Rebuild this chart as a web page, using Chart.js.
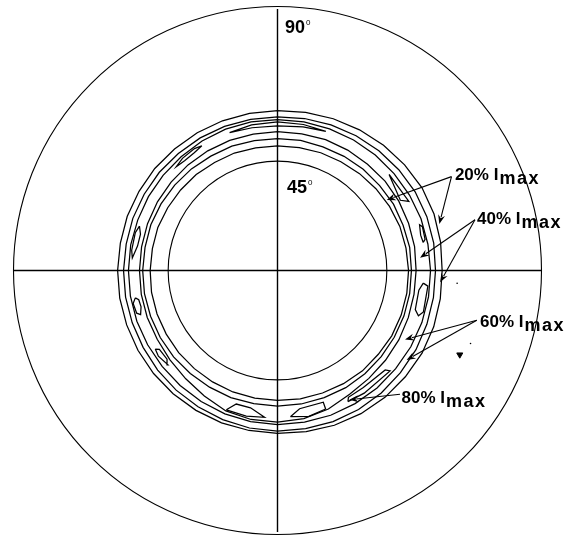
<!DOCTYPE html>
<html><head><meta charset="utf-8">
<script src="https://cdn.jsdelivr.net/npm/chart.js@4.4.1/dist/chart.umd.min.js"></script>
<style>html,body{margin:0;padding:0;background:#fff;overflow:hidden}#c{display:block}</style>
</head><body>
<canvas id="c" width="576" height="537"></canvas>
<script>
// Azimuth (deg, counter-clockwise from +x) at which each contour is sampled
const azimuths = [0,10,20,30,40,50,60,70,80,90,100,110,120,130,140,150,160,170,180,190,200,210,220,230,240,250,260,270,280,290,300,310,320,330,340,350];
// Tilt angle psi (deg) of each contour ring at those azimuths
const ring20Inner = [52.8,52.6,52.5,52.2,51.9,51.6,51.3,51.2,51.0,51.0,50.9,51.1,51.0,51.2,51.2,51.3,51.5,51.4,51.5,51.7,51.8,51.9,52.1,52.2,52.4,52.6,52.7,52.8,53.0,53.0,53.1,53.2,53.0,53.1,53.0,52.9];
const ring40Inner = [53.8,53.9,53.7,53.8,53.6,53.6,53.5,53.4,53.6,53.5,53.5,53.7,53.6,53.8,53.9,54.0,54.1,54.0,54.1,54.2,54.2,54.3,54.4,54.4,54.5,54.7,54.7,54.8,54.8,54.7,54.7,54.5,54.3,54.1,54.0,53.9];
const ring60Inner = [55.4,55.6,55.7,55.9,56.0,55.9,56.0,56.1,55.9,55.9,55.8,55.8,55.7,55.6,55.5,55.4,55.3,55.2,55.2,55.3,55.4,55.5,56.0,56.8,58.0,59.5,60.1,60.2,59.8,58.8,57.3,56.6,56.2,55.9,55.6,55.4];
const ring60Outer = [60.2,60.1,60.1,60.0,59.9,59.9,59.9,59.9,60.0,60.0,60.0,59.8,59.5,59.2,59.0,58.9,58.8,58.9,58.9,59.0,59.1,59.2,59.4,59.7,60.1,60.5,60.8,61.0,61.0,61.0,60.9,60.8,60.6,60.5,60.4,60.3];
const ring40Outer = [61.8,62.0,62.1,62.1,61.9,61.7,61.5,61.3,61.1,60.9,60.8,60.8,60.7,60.6,60.6,60.5,60.5,60.4,60.5,60.6,60.7,60.9,61.3,61.7,62.1,62.5,62.9,63.1,63.1,63.2,63.1,62.9,62.6,62.4,62.1,61.9];
const ring20Outer = [63.9,64.2,64.5,64.6,64.3,64.0,63.7,63.4,63.1,62.9,62.8,62.7,62.6,62.5,62.5,62.4,62.4,62.3,62.4,62.5,62.6,62.8,63.0,63.2,63.4,63.6,63.7,63.8,64.1,64.4,64.6,64.7,64.6,64.6,64.4,64.1];

// 80% Imax islands: [azimuth, tilt] pairs
const islandTop = [[109,58.3],[100,59.0],[90,59.2],[80,59.1],[71,58.7],[80,58.3],[90,57.9],[100,58.0]];
const islandUpperLeft = [[121,58.2],[124,58.7],[130,58.5],[134,57.8],[130,57.4],[125,57.6]];
const islandLeft = [[162,57.6],[165,58.3],[172,58.3],[175,57.8],[170,56.6],[165,56.5]];
const islandLeftLow = [[191,57.5],[193,58.6],[197,58.3],[198,57.2],[195,56.3],[192,56.5]];
const islandLowerLeft = [[213,57.8],[216,58.3],[221,57.6],[219,56.6],[214,56.7]];
const islandBottomLeft = [[250,59.1],[253,56.2],[259,56.3],[265,58.8],[258,59.3]];
const islandBottomRight = [[275,58.6],[279,56.3],[289,56.1],[289,58.5],[282,59.4]];
const islandLowerRight = [[298,59.2],[305,59.6],[318,59.7],[317,58.3],[306,57.9],[299,58.0]];
const islandRightLow = [[355,58.0],[354,59.6],[344,59.8],[342,58.6],[344,57.0],[352,56.8]];
const islandRightUp = [[11,58.7],[12,59.5],[17,59.7],[18,59.0],[14,58.4]];
const islandUpperRight = [[41,58.5],[28,58.8],[30,56.5]];

// stray marks [azimuth, tilt]
const strayMarks = [[335.0,74.6]];
const strayDots = [[355.9,68.6],[339.1,76.1]];

// Graticule circles (tilt, deg) and their labels
const gridCircles = [45, 90];
const angleLabels = ['90', '45'];
const angleLabelPos = [[0.028, 0.909], [0.036, 0.295]];

// Contour level labels
const levelLabels = ['20%', '40%', '60%', '80%'];
const levelLabelPos = [[0.672, 0.345], [0.756, 0.178], [0.767, -0.216], [0.470, -0.506]];
const arrowFrom = [[0.659,0.359],[0.659,0.359],[0.748,0.194],[0.748,0.194],[0.755,-0.190],[0.755,-0.190],[0.464,-0.473]];
const arrowTo   = [[0.414,0.270],[0.613,0.178],[0.540,0.049],[0.616,-0.045],[0.483,-0.264],[0.489,-0.342],[0.272,-0.494]];

function toXY(phi, psi){
  const r = Math.tan(psi*Math.PI/360);
  const a = phi*Math.PI/180;
  return {x: r*Math.cos(a), y: r*Math.sin(a)};
}
function ringData(vals){
  const d = azimuths.map((a,i)=>toXY(a, vals[i]));
  d.push(d[0]);
  return d;
}
function islandData(pts){
  const d = pts.map(p=>toXY(p[0], p[1]));
  d.push(d[0]);
  return d;
}
const lineStyle = {showLine:true, borderColor:'#000', borderWidth:1.25, pointRadius:0, tension:0, fill:false};
const datasets = [];
[ring20Inner, ring40Inner, ring60Inner, ring60Outer, ring40Outer, ring20Outer].forEach(r=>{
  datasets.push(Object.assign({data: ringData(r)}, lineStyle));
});
[islandTop, islandUpperLeft, islandLeft, islandLeftLow, islandLowerLeft, islandBottomLeft, islandBottomRight, islandLowerRight, islandRightLow, islandRightUp, islandUpperRight].forEach(p=>{
  datasets.push(Object.assign({data: islandData(p)}, lineStyle));
});
datasets.push({data: strayMarks.map(p=>toXY(p[0],p[1])), showLine:false, pointStyle:'triangle', rotation:180, pointRadius:3.5, backgroundColor:'#000', borderColor:'#000', borderWidth:1});
datasets.push({data: strayDots.map(p=>toXY(p[0],p[1])), showLine:false, pointRadius:0.8, backgroundColor:'#000', borderColor:'#000', borderWidth:0});

const gridPlugin = {
  id: 'grid',
  beforeDatasetsDraw(chart){
    const {ctx, scales:{x, y}} = chart;
    const cx = x.getPixelForValue(0), cy = y.getPixelForValue(0);
    ctx.save();
    ctx.strokeStyle = '#000';
    ctx.lineWidth = 1.1;
    gridCircles.forEach(g=>{
      const r = x.getPixelForValue(Math.tan(g*Math.PI/360)) - cx;
      ctx.beginPath(); ctx.arc(cx, cy, r, 0, Math.PI*2); ctx.stroke();
    });
    const R = x.getPixelForValue(1) - cx;
    ctx.lineWidth = 1.4;
    ctx.beginPath();
    ctx.moveTo(cx - R, cy); ctx.lineTo(cx + R, cy);
    ctx.moveTo(cx, y.getPixelForValue(1)); ctx.lineTo(cx, y.getPixelForValue(-1));
    ctx.stroke();
    ctx.restore();
  },
  afterDatasetsDraw(chart){
    const {ctx, scales:{x, y}} = chart;
    ctx.save();
    ctx.fillStyle = '#000'; ctx.strokeStyle = '#000';
    angleLabels.forEach((t,i)=>{
      const px = x.getPixelForValue(angleLabelPos[i][0]);
      const py = y.getPixelForValue(angleLabelPos[i][1]);
      ctx.font = 'bold 18px "Liberation Sans", Arial, sans-serif';
      ctx.textBaseline = 'alphabetic';
      ctx.fillText(t, px, py);
      const w = ctx.measureText(t).width;
      ctx.font = '8px "Liberation Sans", Arial, sans-serif';
      ctx.fillText('0', px + w + 1, py - 8);
    });
    ctx.lineWidth = 1.1;
    arrowFrom.forEach((f,i)=>{
      const x0 = x.getPixelForValue(f[0]), y0 = y.getPixelForValue(f[1]);
      const x1 = x.getPixelForValue(arrowTo[i][0]), y1 = y.getPixelForValue(arrowTo[i][1]);
      const ang = Math.atan2(y1-y0, x1-x0);
      const L = 9, W = 3.5;
      const bx = x1 - L*Math.cos(ang), by = y1 - L*Math.sin(ang);
      ctx.beginPath(); ctx.moveTo(x0,y0); ctx.lineTo(bx + 2*Math.cos(ang), by + 2*Math.sin(ang)); ctx.stroke();
      ctx.beginPath();
      ctx.moveTo(x1,y1);
      ctx.lineTo(bx - W*Math.sin(ang), by + W*Math.cos(ang));
      ctx.lineTo(bx + 3*Math.cos(ang), by + 3*Math.sin(ang));
      ctx.lineTo(bx + W*Math.sin(ang), by - W*Math.cos(ang));
      ctx.closePath(); ctx.fill();
    });
    levelLabels.forEach((t,i)=>{
      const px = x.getPixelForValue(levelLabelPos[i][0]);
      const py = y.getPixelForValue(levelLabelPos[i][1]);
      ctx.font = 'bold 17px "Liberation Sans", Arial, sans-serif';
      const main = t + ' I';
      ctx.fillText(main, px, py);
      const w = ctx.measureText(main).width;
      ctx.font = 'bold 18px "Liberation Sans", Arial, sans-serif';
      try { ctx.letterSpacing = '1.5px'; } catch(e) {}
      ctx.fillText('max', px + w + 1, py + 4);
      try { ctx.letterSpacing = '0px'; } catch(e) {}
    });
    ctx.restore();
  }
};

new Chart(document.getElementById('c'), {
  type: 'scatter',
  data: {datasets},
  options: {
    responsive: false,
    animation: false,
    devicePixelRatio: 1,
    clip: false,
    layout: {padding: {left: 13.5, right: 34.5, top: 9, bottom: 0}},
    plugins: {legend: {display:false}, tooltip: {enabled:false}},
    scales: {
      x: {type:'linear', min:-1, max:1, display:false},
      y: {type:'linear', min:-1, max:1, display:false}
    }
  },
  plugins: [gridPlugin]
});
</script>
</body></html>
